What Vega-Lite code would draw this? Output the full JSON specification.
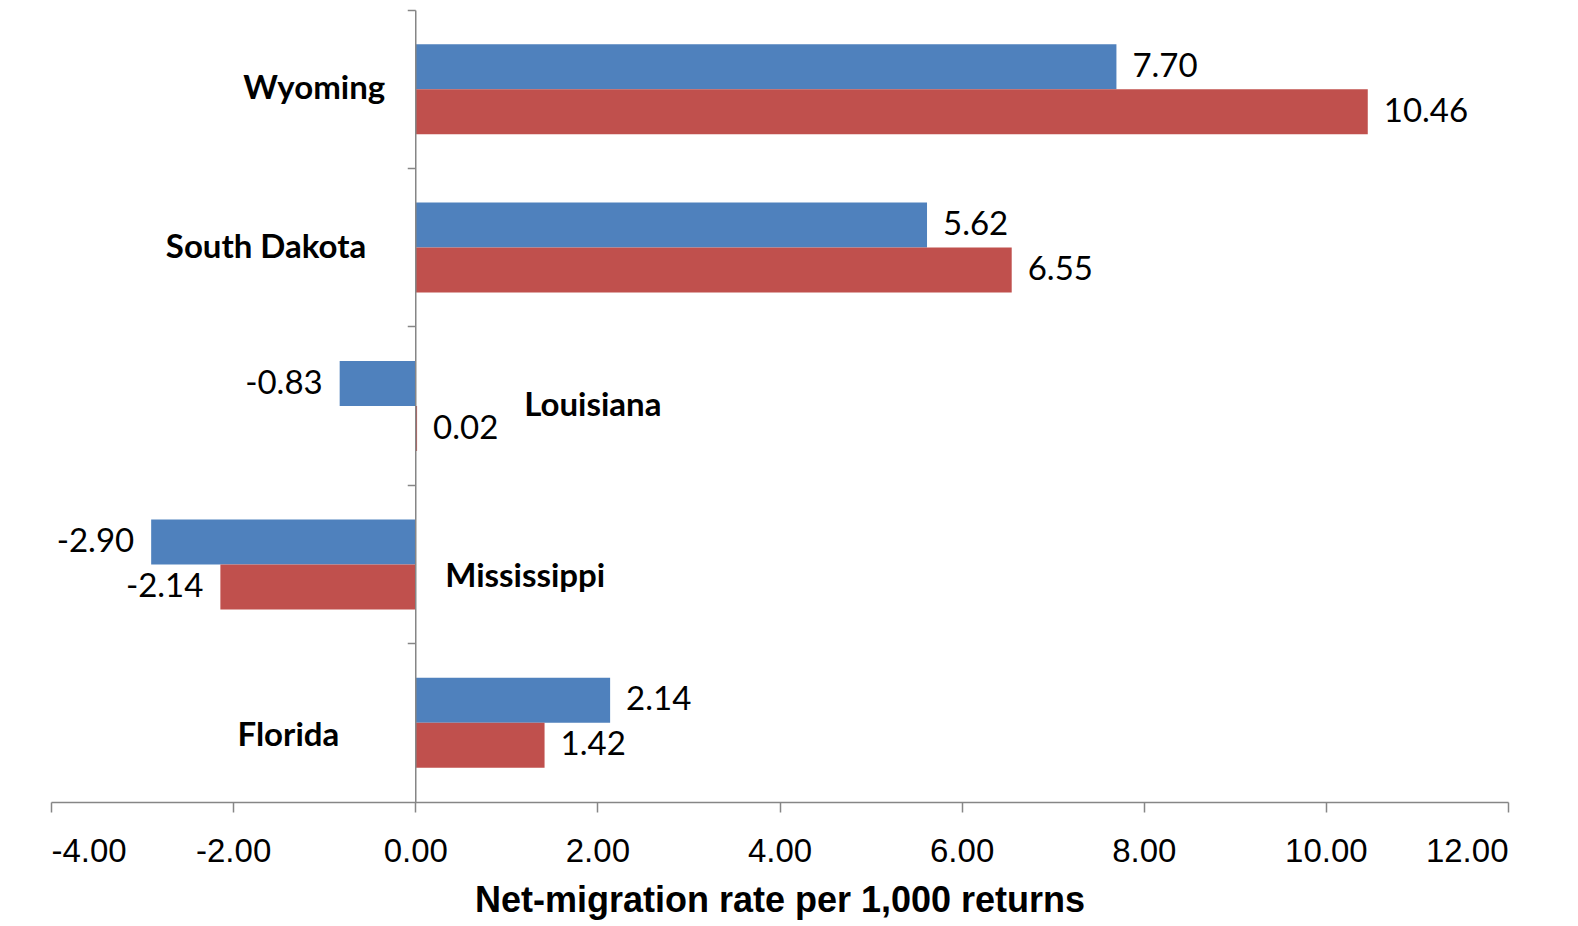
{
  "$schema": "https://vega.github.io/schema/vega-lite/v6.json",
  "width": 1457,
  "height": 792,
  "autosize": {"type": "none"},
  "padding": {"left": 51, "top": 10, "right": 70, "bottom": 124},
  "background": "white",
  "config": {"view": {"stroke": null}},
  "data": {
    "values": [
      {"state": "Wyoming", "series": "Series 1", "value": 7.70},
      {"state": "Wyoming", "series": "Series 2", "value": 10.46},
      {"state": "South Dakota", "series": "Series 1", "value": 5.62},
      {"state": "South Dakota", "series": "Series 2", "value": 6.55},
      {"state": "Louisiana", "series": "Series 1", "value": -0.83},
      {"state": "Louisiana", "series": "Series 2", "value": 0.02},
      {"state": "Mississippi", "series": "Series 1", "value": -2.90},
      {"state": "Mississippi", "series": "Series 2", "value": -2.14},
      {"state": "Florida", "series": "Series 1", "value": 2.14},
      {"state": "Florida", "series": "Series 2", "value": 1.42}
    ]
  },
  "encoding": {
    "y": {
      "field": "state",
      "type": "nominal",
      "sort": ["Wyoming", "South Dakota", "Louisiana", "Mississippi", "Florida"],
      "scale": {"paddingInner": 0, "paddingOuter": 0},
      "axis": {
        "title": null,
        "labels": false,
        "offset": -364.25,
        "bandPosition": 0,
        "tickSize": 8,
        "domainColor": "#868686",
        "tickColor": "#868686",
        "domainWidth": 1.5,
        "tickWidth": 1.5,
        "zindex": 1
      }
    }
  },
  "layer": [
    {
      "mark": {"type": "bar"},
      "encoding": {
        "x": {
          "field": "value",
          "type": "quantitative",
          "scale": {"domain": [-4, 12], "nice": false, "zero": false},
          "axis": {
            "values": [-4, -2, 0, 2, 4, 6, 8, 10, 12],
            "format": ".2f",
            "labelExpr": "replace(datum.label, '\u2212', '-')",
            "grid": false,
            "tickSize": 10,
            "tickColor": "#868686",
            "domainColor": "#868686",
            "domainWidth": 1.5,
            "tickWidth": 1.5,
            "labelFont": "Liberation Sans",
            "labelFontSize": 33,
            "labelColor": "black",
            "labelPadding": 23,
            "title": "Net-migration rate per 1,000 returns",
            "titleFont": "Liberation Sans",
            "titleFontSize": 36,
            "titleFontWeight": "bold",
            "titleColor": "black",
            "titlePadding": 15
          }
        },
        "yOffset": {
          "field": "series",
          "type": "nominal",
          "scale": {"paddingInner": 0, "paddingOuter": 0.76}
        },
        "color": {
          "field": "series",
          "type": "nominal",
          "scale": {"domain": ["Series 1", "Series 2"], "range": ["#4F81BD", "#C0504D"]},
          "legend": null
        }
      }
    },
    {
      "transform": [{"calculate": "replace(format(datum.value, '.2f'), '\u2212', '-')", "as": "label"}],
      "mark": {
        "type": "text",
        "font": "Lato",
        "fontSize": 33,
        "color": "black",
        "baseline": "middle",
        "align": {"expr": "datum.value < 0 ? 'right' : 'left'"},
        "dx": {"expr": "datum.value < 0 ? -17 : 16"}
      },
      "encoding": {
        "x": {"field": "value", "type": "quantitative"},
        "yOffset": {"field": "series", "type": "nominal"},
        "text": {"field": "label", "type": "nominal"}
      }
    },
    {
      "transform": [{"filter": "datum.series == 'Series 1'"}],
      "mark": {
        "type": "text",
        "font": "Lato",
        "fontSize": 33,
        "fontWeight": "bold",
        "color": "black",
        "baseline": "middle",
        "align": {"expr": "datum.state == 'Louisiana' || datum.state == 'Mississippi' ? 'left' : 'right'"},
        "dx": {"expr": "datum.state == 'Wyoming' ? -30 : datum.state == 'South Dakota' ? -49 : datum.state == 'Louisiana' ? 109 : datum.state == 'Mississippi' ? 30 : -76"},
        "dy": {"expr": "datum.state == 'Mississippi' || datum.state == 'Florida' ? 13 : 0"}
      },
      "encoding": {
        "x": {"datum": 0, "type": "quantitative"},
        "text": {"field": "state"}
      }
    }
  ]
}
